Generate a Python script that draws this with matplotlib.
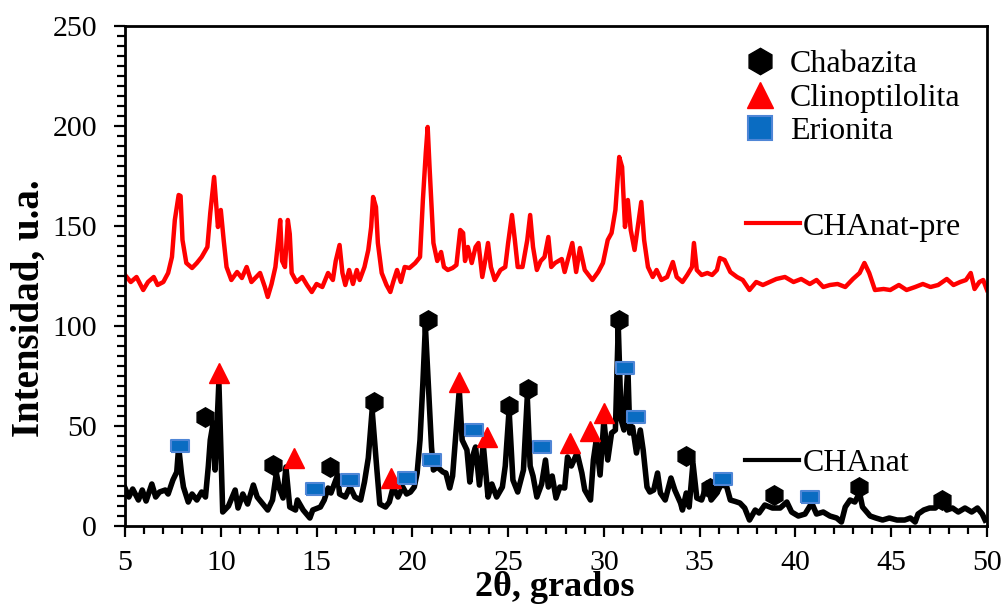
import matplotlib
matplotlib.use("Agg")
import matplotlib.pyplot as plt
from matplotlib.lines import Line2D

plt.rcParams["font.family"] = ["Liberation Serif", "DejaVu Serif"]

# CHAnat pattern (2theta, intensity)
chanat_2theta = [
    5.0, 5.2, 5.4, 5.7, 5.9, 6.1, 6.4, 6.6, 6.8, 7.1,
    7.25, 7.5, 7.7, 7.8, 7.95, 8.05, 8.3, 8.5, 8.75, 9.0,
    9.2, 9.35, 9.45, 9.6, 9.7, 9.9, 10.1, 10.4, 10.75, 10.9,
    11.15, 11.4, 11.7, 11.9, 12.2, 12.45, 12.7, 12.9, 13.05, 13.25,
    13.4, 13.6, 13.9, 14.0, 14.3, 14.65, 14.8, 15.2, 15.4, 15.6,
    15.75, 16.1, 16.2, 16.5, 16.75, 17.0, 17.3, 17.5, 17.7, 17.9,
    18.15, 18.3, 18.6, 18.8, 19.0, 19.25, 19.5, 19.7, 19.9, 20.1,
    20.25, 20.4, 20.55, 20.68, 20.8, 21.0, 21.1, 21.3, 21.6, 21.75,
    21.95, 22.1, 22.3, 22.45, 22.6, 22.85, 23.0, 23.15, 23.3, 23.5,
    23.7, 23.95, 24.15, 24.4, 24.7, 24.85, 25.05, 25.25, 25.5, 25.8,
    26.0, 26.15, 26.3, 26.5, 26.75, 26.95, 27.1, 27.3, 27.5, 27.7,
    27.95, 28.1, 28.3, 28.6, 28.85, 29.0, 29.3, 29.45, 29.6, 29.8,
    30.0, 30.2, 30.4, 30.6, 30.75, 30.9, 31.05, 31.25, 31.35, 31.5,
    31.7, 31.9, 32.05, 32.25, 32.4, 32.6, 32.8, 32.95, 33.2, 33.5,
    33.7, 34.0, 34.1, 34.3, 34.45, 34.65, 34.85, 35.1, 35.4, 35.6,
    35.9, 36.1, 36.4, 36.6, 36.85, 37.1, 37.35, 37.6, 37.9, 38.1,
    38.4, 38.8, 39.2, 39.55, 39.8, 40.15, 40.5, 40.85, 41.1, 41.45,
    41.8, 42.15, 42.4, 42.6, 42.85, 43.1, 43.35, 43.5, 43.9, 44.2,
    44.55, 44.9, 45.3, 45.7, 46.0, 46.25, 46.4, 46.7, 47.0, 47.3,
    47.65, 47.9, 48.2, 48.5, 48.85, 49.2, 49.5, 49.75, 49.9,
]
chanat_int = [
    19, 14.5, 18.5, 13, 18, 12.5, 21, 14.5, 17, 18,
    16, 23, 27, 39.5, 26, 19.5, 12, 16, 13, 17,
    14.5, 30, 43, 51.5, 28, 72, 7, 10, 18, 9,
    16, 11, 20.5, 14.5, 11, 8, 13, 26.5, 19, 14,
    29.5, 9.5, 8, 13, 8, 4, 8, 9.5, 13, 19,
    16.5, 25.5, 16, 14.5, 19.5, 14.5, 13, 22, 34, 58,
    28, 11, 9.5, 12, 19.5, 14.5, 19.5, 16, 17, 19.5,
    26.5, 43, 71.5, 100, 77, 39.5, 28, 29.5, 27, 26.5,
    19, 25, 49.5, 68, 43, 38, 22, 35, 39.5, 20.5,
    41, 14.5, 21, 14.5, 19.5, 30, 58, 23, 17, 28,
    64.5, 30, 25, 14.5, 21, 33, 19.5, 25, 14, 19.5,
    19, 34.5, 30, 36.5, 26.5, 18, 13, 33, 43, 25.5,
    53, 33, 46.5, 48, 100, 53, 48, 79.5, 46.5, 49.5,
    36.5, 48, 38, 19.5, 17, 18, 26.5, 16.5, 13, 24,
    18, 11.5, 8, 16.5, 9.5, 31.5, 14, 13, 21.5, 13,
    16.5, 20.5, 20, 13, 12.3, 11.5, 9, 3, 8, 6.5,
    10.5, 9, 9, 12, 7, 5, 6, 11.5, 6, 7,
    5, 4, 2, 9.5, 13, 12, 16.5, 9.5, 5, 4,
    3, 4, 3, 3, 4, 2, 6, 8, 9, 9,
    12, 8, 9, 7, 9, 7, 9, 6, 3,
]

# CHAnat-pre pattern (2theta, intensity)
pre_2theta = [
    5.0, 5.3, 5.6, 5.95, 6.2, 6.5, 6.7, 7.0, 7.25, 7.45,
    7.6, 7.8, 7.9, 8.0, 8.2, 8.5, 8.75, 9.0, 9.3, 9.45,
    9.65, 9.75, 9.85, 10.0, 10.15, 10.3, 10.55, 10.85, 11.1, 11.35,
    11.6, 11.85, 12.05, 12.3, 12.45, 12.65, 12.85, 13.0, 13.1, 13.2,
    13.35, 13.5, 13.6, 13.7, 13.95, 14.25, 14.5, 14.75, 15.0, 15.3,
    15.6, 15.85, 16.0, 16.2, 16.35, 16.5, 16.7, 16.9, 17.1, 17.25,
    17.5, 17.7, 17.85, 17.95, 18.1, 18.2, 18.4, 18.65, 18.85, 19.0,
    19.2, 19.4, 19.6, 19.85, 20.15, 20.4, 20.55, 20.7, 20.8, 20.9,
    21.1, 21.3, 21.5, 21.65, 21.85, 22.1, 22.3, 22.5, 22.65, 22.75,
    22.9, 23.1, 23.3, 23.45, 23.65, 23.8, 23.95, 24.1, 24.3, 24.6,
    24.85, 25.0, 25.2, 25.35, 25.5, 25.75, 26.0, 26.15, 26.3, 26.5,
    26.7, 26.9, 27.1, 27.25, 27.45, 27.8, 27.95, 28.35, 28.55, 28.75,
    29.0, 29.4, 29.7, 29.95, 30.2, 30.4, 30.6, 30.8, 30.95, 31.1,
    31.25, 31.4, 31.6, 31.95, 32.1, 32.3, 32.55, 32.75, 33.0, 33.3,
    33.6, 33.8, 34.1, 34.35, 34.6, 34.7, 34.85, 35.1, 35.4, 35.65,
    35.9, 36.05, 36.3, 36.6, 36.95, 37.25, 37.6, 37.95, 38.3, 38.65,
    39.0, 39.45, 39.9, 40.3, 40.75, 41.1, 41.45, 41.8, 42.2, 42.6,
    43.0, 43.35, 43.6, 43.85, 44.15, 44.6, 44.95, 45.4, 45.8, 46.25,
    46.65, 47.05, 47.45, 47.9, 48.25, 48.6, 48.9, 49.15, 49.35, 49.6,
    49.8, 50.0,
]
pre_int = [
    125.5, 122, 124.5, 118, 122, 124.5, 120.5, 122, 126.5, 134.5,
    153, 165.5, 165, 143, 131.5, 129, 131.5, 134.5, 139.5, 156.5,
    174.5, 162, 149.5, 158, 143, 129.5, 123, 127, 124, 129.5,
    122, 124.5, 126.5, 119.5, 114.5, 121, 129.5, 143, 153, 132.5,
    129.5, 153, 146, 126.5, 122, 124.5, 120.5, 117, 121, 119.5,
    126.5, 123, 132.5, 140.5, 126.5, 120.5, 128, 121, 128, 123,
    129.5, 138, 149.5, 164.5, 159.5, 141.5, 126.5, 120.5, 117, 122,
    128, 122, 129.5, 129, 131.5, 134.5, 163, 186.5, 199.5, 179,
    141.5, 132.5, 137, 129.5, 128, 129, 130.5, 148, 146.5, 132.5,
    139.5, 131.5, 139.5, 141.5, 124.5, 132.5, 141.5, 129.5, 123, 128,
    129.5, 141.5, 155.5, 143, 129.5, 129.5, 143, 155.5, 139.5, 128,
    132.5, 134.5, 144.5, 129.5, 131.5, 133.5, 127, 141.5, 127, 139,
    128, 123, 127, 131.5, 143, 146.5, 158, 184.5, 179.5, 149.5,
    163, 148, 138, 162, 143, 129.5, 124.5, 128, 123, 124.5,
    132, 124.5, 122, 125.5, 129.5, 141.5, 128, 125.5, 126.5, 125.5,
    128, 134, 133, 127, 124.5, 123, 118, 122, 120.5, 122,
    123.5, 124.5, 122, 123.5, 121, 123, 119.5, 120.5, 121, 119.5,
    123.5, 126.5, 131.5, 126.5, 118, 118.5, 118, 120.5, 118, 119.5,
    121, 119.5, 120.5, 123.5, 120.5, 122, 123, 126.5, 118.5, 122,
    123, 118,
]

# Phase identification marks
chabazita_x = [9.2, 12.7, 15.7, 18.0, 20.8, 25.05, 26.05, 30.8, 34.3, 35.55, 38.9, 43.3, 47.65]
chabazita_y = [54.5, 30.5, 29.5, 62, 103, 60, 68.5, 103, 35, 19, 15.5, 19.5, 13]
clino_x = [9.9, 13.8, 18.9, 22.45, 23.9, 28.25, 29.3, 30.0]
clino_y = [76.5, 34, 24, 72, 44.5, 41.5, 47.5, 56.5]
erionita_x = [7.85, 14.9, 16.75, 19.7, 21.0, 23.2, 26.75, 31.1, 31.7, 36.2, 40.75]
erionita_y = [40, 18.5, 23, 24, 33, 48, 39.5, 79, 54.5, 23.5, 14.5]

rect = [(-1.45, -1), (1.45, -1), (1.45, 1), (-1.45, 1), (-1.45, -1)]

fig = plt.figure(figsize=(10.05, 6.04), dpi=100)
ax = fig.add_axes([0.1244, 0.1291, 0.8577, 0.8279])

ax.plot(pre_2theta, pre_int, color="#ff0000", linewidth=3.2, zorder=2)
ax.plot(chanat_2theta, chanat_int, color="black", linewidth=4.0, zorder=2)

ax.plot(chabazita_x, chabazita_y, linestyle="none", marker="h", markersize=14,
        color="black", zorder=4)
ax.plot(clino_x, clino_y, linestyle="none", marker="^", markersize=14,
        color="#ff0000", zorder=4)
ax.plot(erionita_x, erionita_y, linestyle="none", marker=rect, markersize=13.5,
        markerfacecolor="#0a6cc2", markeredgecolor="#4f86d6", markeredgewidth=1.5,
        zorder=4)

ax.set_xlim(5, 50)
ax.set_ylim(0, 250)
ax.set_xticks(range(5, 51, 5))
ax.set_xticks(range(5, 51, 1), minor=True)
ax.set_yticks(range(0, 251, 50))
ax.set_yticks(range(0, 251, 5), minor=True)

for s in ax.spines.values():
    s.set_linewidth(2.0)
ax.tick_params(which="major", direction="out", length=8, width=1.6, labelsize=21.5)
ax.tick_params(which="minor", direction="out", length=6, width=1.6)
ax.tick_params(axis="x", which="major", pad=9)
ax.tick_params(axis="y", which="major", pad=12)

ax.set_xlabel("2θ, grados", fontsize=26, fontweight="bold")
ax.xaxis.set_label_coords(0.4988, -0.09)
ax.set_ylabel("Intensidad, u.a.", fontsize=28, fontweight="bold")
ax.yaxis.set_label_coords(-0.089, 0.436)

# phase legend
phase_handles = [
    Line2D([], [], linestyle="none", marker="h", markersize=19, color="black"),
    Line2D([], [], linestyle="none", marker="^", markersize=19, color="#ff0000"),
    Line2D([], [], linestyle="none", marker="s", markersize=17,
           markerfacecolor="#0a6cc2", markeredgecolor="#4f86d6", markeredgewidth=1.5),
]
leg1 = ax.legend(phase_handles, ["Chabazita", "Clinoptilolita", "Erionita"],
                 loc="upper left", bbox_to_anchor=(0.7216, 0.952), frameon=False,
                 fontsize=23, handlelength=0.8, handletextpad=0.55,
                 labelspacing=0.13, borderpad=0, borderaxespad=0)
ax.add_artist(leg1)

leg2 = ax.legend([Line2D([], [], color="#ff0000", linewidth=3)], ["CHAnat-pre"],
                 loc="center left", bbox_to_anchor=(0.720, 0.598), frameon=False,
                 fontsize=23, handlelength=1.7, handletextpad=0.1,
                 borderpad=0, borderaxespad=0)
ax.add_artist(leg2)

ax.legend([Line2D([], [], color="black", linewidth=3)], ["CHAnat"],
          loc="center left", bbox_to_anchor=(0.719, 0.126), frameon=False,
          fontsize=23, handlelength=1.7, handletextpad=0.1,
          borderpad=0, borderaxespad=0)

fig.savefig("out.png", dpi=100)
